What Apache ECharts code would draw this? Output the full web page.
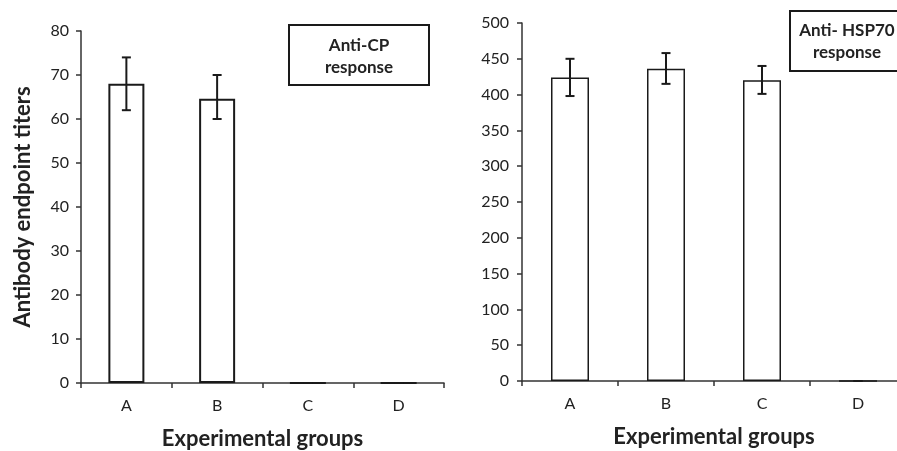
<!DOCTYPE html>
<html>
<head>
<meta charset="utf-8">
<script src="https://cdn.jsdelivr.net/npm/echarts@6/dist/echarts.min.js"></script>
<style>html,body{margin:0;padding:0;background:#fff}#c{width:897px;height:451px}</style>
</head>
<body>
<div id="c"></div>
<script>
const categories = ['A', 'B', 'C', 'D'];
const cpMean = [68, 64.6, 0, 0];
const cpLow = [62, 60, 0, 0];
const cpHigh = [74, 70, 0, 0];
const hspMean = [424, 436, 420, 0];
const hspLow = [398, 415, 401, 0];
const hspHigh = [450, 458, 440, 0];

const FONT = 'Lato';
const ink = '#1a1a1a';

function errData(lo, hi) { return categories.map((c, i) => [i, lo[i], hi[i]]); }
function errRender(params, api) {
  const x = api.value(0), lo = api.value(1), hi = api.value(2);
  const p1 = api.coord([x, hi]);
  const p2 = api.coord([x, lo]);
  const hw = 4.5;
  const st = { stroke: ink, lineWidth: 2 };
  return { type: 'group', children: [
    { type: 'line', shape: { x1: p1[0], y1: p1[1], x2: p2[0], y2: p2[1] }, style: st },
    { type: 'line', shape: { x1: p1[0] - hw, y1: p1[1], x2: p1[0] + hw, y2: p1[1] }, style: st },
    { type: 'line', shape: { x1: p2[0] - hw, y1: p2[1], x2: p2[0] + hw, y2: p2[1] }, style: st }
  ]};
}

const axisLabel = { color: '#222', fontFamily: FONT, fontSize: 16 };
const chart = echarts.init(document.getElementById('c'));
chart.setOption({
  animation: false,
  backgroundColor: '#fff',
  grid: [
    { left: 81, top: 31, width: 363, height: 352, containLabel: false, outerBoundsMode: 'none' },
    { left: 522, top: 23, width: 384, height: 358, containLabel: false, outerBoundsMode: 'none' }
  ],
  xAxis: [0, 1].map(g => ({
    type: 'category', gridIndex: g, data: categories,
    axisLine: { lineStyle: { color: '#333', width: 1.5 } },
    axisTick: { show: true, length: 5, lineStyle: { color: '#333', width: 1.5 } },
    axisLabel: Object.assign({ margin: 15 }, axisLabel),
    name: 'Experimental groups', nameLocation: 'middle', nameGap: 45,
    nameTextStyle: { fontFamily: FONT, fontWeight: 'bold', fontSize: 22, color: '#222' }
  })),
  yAxis: [
    { type: 'value', gridIndex: 0, min: 0, max: 80, interval: 10,
      splitLine: { show: false },
      axisLine: { show: true, lineStyle: { color: '#333', width: 1.5 } },
      axisTick: { show: true, length: 5, lineStyle: { color: '#333', width: 1.5 } },
      axisLabel: Object.assign({ margin: 12 }, axisLabel),
      name: 'Antibody endpoint titers', nameLocation: 'middle', nameGap: 47,
      nameTextStyle: { fontFamily: FONT, fontWeight: 'bold', fontSize: 22, color: '#222' } },
    { type: 'value', gridIndex: 1, min: 0, max: 500, interval: 50,
      splitLine: { show: false },
      axisLine: { show: true, lineStyle: { color: '#333', width: 1.5 } },
      axisTick: { show: true, length: 5, lineStyle: { color: '#333', width: 1.5 } },
      axisLabel: Object.assign({ margin: 13 }, axisLabel) }
  ],
  series: [
    { type: 'bar', xAxisIndex: 0, yAxisIndex: 0, data: cpMean, barWidth: 36,
      itemStyle: { color: '#fff', borderColor: ink, borderWidth: 2 } },
    { type: 'custom', xAxisIndex: 0, yAxisIndex: 0, data: errData(cpLow, cpHigh),
      encode: { x: 0, y: [1, 2] }, renderItem: errRender, z: 5 },
    { type: 'bar', xAxisIndex: 1, yAxisIndex: 1, data: hspMean, barWidth: 38,
      itemStyle: { color: '#fff', borderColor: ink, borderWidth: 1.5 } },
    { type: 'custom', xAxisIndex: 1, yAxisIndex: 1, data: errData(hspLow, hspHigh),
      encode: { x: 0, y: [1, 2] }, renderItem: errRender, z: 5 }
  ],
  graphic: [
    { type: 'rect', shape: { x: 289, y: 25, width: 140, height: 60 },
      style: { fill: '#fff', stroke: ink, lineWidth: 2 } },
    { type: 'text', x: 359, y: 57,
      style: { text: 'Anti-CP\nresponse', align: 'center', verticalAlign: 'middle',
        font: 'bold 17px Lato', fill: '#222', lineHeight: 22 } },
    { type: 'rect', shape: { x: 790, y: 11, width: 120, height: 60 },
      style: { fill: '#fff', stroke: ink, lineWidth: 2 } },
    { type: 'text', x: 847, y: 42,
      style: { text: 'Anti- HSP70\nresponse', align: 'center', verticalAlign: 'middle',
        font: 'bold 17px Lato', fill: '#222', lineHeight: 22 } }
  ]
});
</script>
</body>
</html>
